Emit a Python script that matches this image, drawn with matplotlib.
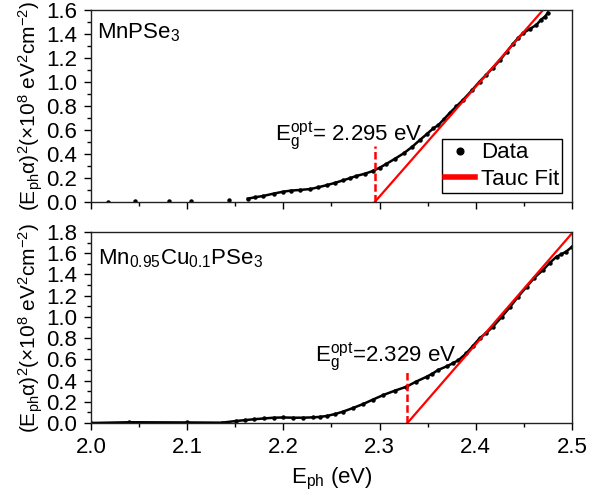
import matplotlib
matplotlib.use("Agg")
import matplotlib.pyplot as plt
from matplotlib.ticker import MultipleLocator

plt.rcParams['font.family'] = ['Liberation Sans', 'DejaVu Sans']
plt.rcParams['mathtext.fontset'] = 'custom'
plt.rcParams['mathtext.rm'] = 'Liberation Sans'
plt.rcParams['mathtext.it'] = 'Liberation Sans:italic'
plt.rcParams['mathtext.bf'] = 'Liberation Sans:bold'

# MnPSe3
top_noise_x = [2.018, 2.046, 2.081, 2.104, 2.143]
top_noise_y = [0.003, 0.006, 0.006, 0.008, 0.017]
top_x = [2.163, 2.171, 2.179, 2.190, 2.200, 2.208, 2.217, 2.228, 2.236, 2.245,
         2.254, 2.262, 2.269, 2.276, 2.285, 2.293, 2.300, 2.307, 2.316, 2.325,
         2.334, 2.342, 2.349, 2.356, 2.361, 2.367, 2.373, 2.380, 2.387, 2.396,
         2.404, 2.411, 2.418, 2.425, 2.432, 2.439, 2.444, 2.449, 2.456, 2.463,
         2.468, 2.472, 2.475]
top_y = [0.028, 0.040, 0.050, 0.070, 0.086, 0.095, 0.100, 0.108, 0.122, 0.140,
         0.160, 0.180, 0.198, 0.217, 0.236, 0.258, 0.285, 0.317, 0.360, 0.405,
         0.460, 0.517, 0.565, 0.614, 0.640, 0.690, 0.742, 0.797, 0.852, 0.930,
         1.003, 1.060, 1.120, 1.180, 1.250, 1.320, 1.365, 1.406, 1.440, 1.475,
         1.520, 1.544, 1.578]
top_fit_x = [2.295, 2.470]
top_fit_y = [0.0, 1.6]
top_eg = 2.295
top_dash_h = 0.47

# Mn0.95Cu0.1PSe3
bot_x = [2.000, 2.040, 2.100, 2.136, 2.151, 2.160, 2.169, 2.180, 2.190, 2.200,
         2.210, 2.220, 2.231, 2.238, 2.245, 2.254, 2.262, 2.272, 2.283, 2.293,
         2.304, 2.316, 2.328, 2.338, 2.349, 2.355, 2.361, 2.370, 2.376, 2.382,
         2.390, 2.397, 2.404, 2.411, 2.418, 2.427, 2.436, 2.444, 2.453, 2.461,
         2.470, 2.477, 2.484, 2.489, 2.494, 2.500]
bot_y = [0.000, 0.007, 0.005, 0.003, 0.019, 0.027, 0.035, 0.043, 0.050, 0.052,
         0.050, 0.050, 0.053, 0.058, 0.066, 0.085, 0.107, 0.140, 0.179, 0.220,
         0.264, 0.305, 0.342, 0.390, 0.436, 0.465, 0.500, 0.535, 0.562, 0.592,
         0.655, 0.725, 0.798, 0.850, 0.908, 1.000, 1.097, 1.190, 1.285, 1.370,
         1.442, 1.510, 1.567, 1.590, 1.615, 1.660]
bot_fit_x = [2.329, 2.500]
bot_fit_y = [0.0, 1.787]
bot_eg = 2.329
bot_dash_h = 0.50

ylab = r'$\mathregular{(E_{ph}α)^2(×10^8\ eV^2cm^{-2})}$'
fs = 16

fig = plt.figure(figsize=(5.89, 4.97), dpi=100)
ax1 = fig.add_axes([0.1545, 0.5936, 0.8165, 0.3864])
ax2 = fig.add_axes([0.1545, 0.1489, 0.8165, 0.3843])

# top panel
ax1.plot(top_x, top_y, color='black', lw=1.8)
ax1.plot(top_x + top_noise_x, top_y + top_noise_y, 'o', color='black', ms=2.2,
         label='Data')
ax1.plot(top_fit_x, top_fit_y, color='red', lw=1.6, label='Tauc Fit')
ax1.plot([top_eg, top_eg], [0, top_dash_h], color='red', lw=1.8, ls=(0, (3, 1.3)))
ax1.text(2.191, 0.51, r'$\mathregular{E_g^{opt}}$= 2.295 eV', fontsize=fs)
ax1.text(0.012, 0.85, r'$\mathregular{MnPSe_3}$', fontsize=fs,
         transform=ax1.transAxes)
ax1.set_ylim(0, 1.6)
ax1.set_ylabel(ylab, fontsize=15, labelpad=1)
leg = ax1.legend(loc='lower right', bbox_to_anchor=(0.98, 0.045), borderaxespad=0,
                 fontsize=fs, frameon=True, fancybox=False, framealpha=1,
                 edgecolor='black', markerscale=2.2, handlelength=1.35,
                 handletextpad=0.25, borderpad=0.15, labelspacing=0.25)
leg.get_frame().set_linewidth(1.0)
leg.get_lines()[1].set_linewidth(4)
ax1.tick_params(labelbottom=False)

# bottom panel
ax2.plot(bot_x, bot_y, color='black', lw=1.8)
ax2.plot(bot_x, bot_y, 'o', color='black', ms=2.2)
ax2.plot(bot_fit_x, bot_fit_y, color='red', lw=1.6)
ax2.plot([bot_eg, bot_eg], [0, bot_dash_h], color='red', lw=1.8, ls=(0, (3, 1.3)))
ax2.text(2.233, 0.578, r'$\mathregular{E_g^{opt}}$=2.329 eV', fontsize=fs)
ax2.text(0.015, 0.83, r'$\mathregular{Mn_{0.95}Cu_{0.1}PSe_3}$', fontsize=fs,
         transform=ax2.transAxes)
ax2.set_ylim(0, 1.8)
ax2.set_ylabel(ylab, fontsize=15, labelpad=1)
ax2.set_xlabel(r'$\mathregular{E_{ph}}$ (eV)', fontsize=fs, labelpad=6)

for ax in (ax1, ax2):
    ax.set_xlim(2.0, 2.5)
    ax.xaxis.set_major_locator(MultipleLocator(0.1))
    ax.xaxis.set_minor_locator(MultipleLocator(0.05))
    ax.yaxis.set_major_locator(MultipleLocator(0.2))
    ax.yaxis.set_minor_locator(MultipleLocator(0.1))
    ax.tick_params(which='both', direction='out', labelsize=fs, width=1,
                   top=False, right=False)
    ax.tick_params(which='major', length=5, pad=5)
    ax.tick_params(which='minor', length=3)
    for s in ax.spines.values():
        s.set_linewidth(1.0)
        s.set_color('#222222')

fig.savefig('out.png', dpi=100)
